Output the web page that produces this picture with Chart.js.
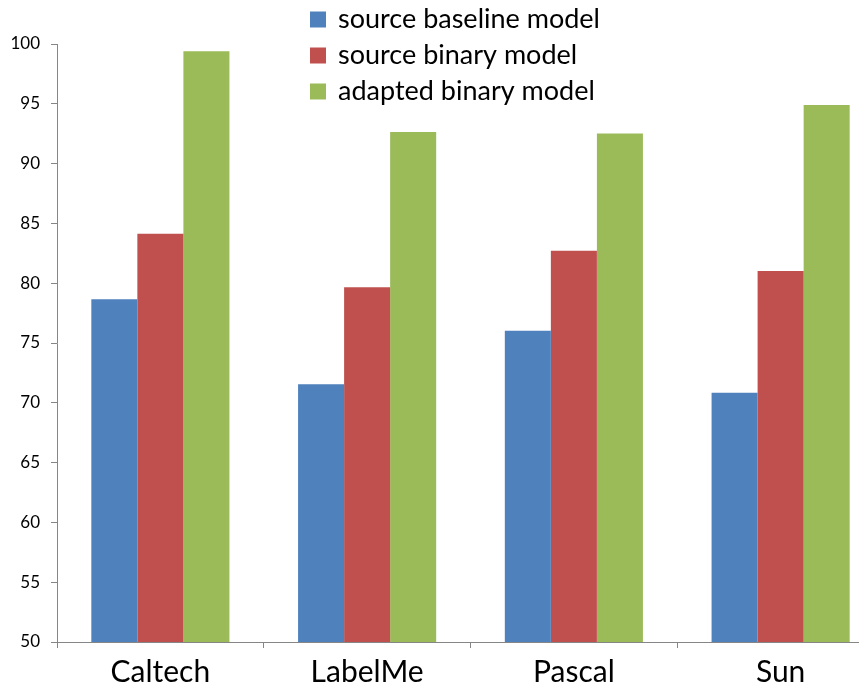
<!DOCTYPE html>
<html>
<head>
<meta charset="utf-8">
<script src="https://cdn.jsdelivr.net/npm/chart.js@4/dist/chart.umd.min.js"></script>
<style>
html,body{margin:0;padding:0;overflow:hidden;background:#fff;}
#wrap{width:886px;height:687px;}
</style>
</head>
<body>
<div id="wrap"><canvas id="c" width="886" height="687"></canvas></div>
<script>
const categories = ["Caltech", "LabelMe", "Pascal", "Sun"];
const seriesNames = ["source baseline model", "source binary model", "adapted binary model"];
const sourceBaseline = [78.65, 71.56, 76.03, 70.84];
const sourceBinary = [84.14, 79.66, 82.72, 81.02];
const adaptedBinary = [99.4, 92.65, 92.51, 94.89];
const yTicks = [50, 55, 60, 65, 70, 75, 80, 85, 90, 95, 100];
const colors = ["#4F81BD", "#C0504D", "#9BBB59"];
const FONT = "Lato, 'Noto Sans', sans-serif";

const legendPlugin = {
  id: 'vlegend',
  afterDraw(chart) {
    const ctx = chart.ctx;
    ctx.save();
    ctx.font = "27px " + FONT;
    ctx.textBaseline = "middle";
    ctx.textAlign = "left";
    chart.data.datasets.forEach((ds, i) => {
      const cy = 19.5 + i * 36;
      ctx.fillStyle = ds.backgroundColor;
      ctx.fillRect(310, cy - 8, 16, 16);
      ctx.fillStyle = "#000";
      ctx.fillText(ds.label, 338, cy);
    });
    ctx.restore();
  }
};

new Chart(document.getElementById('c'), {
  type: 'bar',
  data: {
    labels: categories,
    datasets: [
      { label: seriesNames[0], data: sourceBaseline, backgroundColor: colors[0] },
      { label: seriesNames[1], data: sourceBinary, backgroundColor: colors[1] },
      { label: seriesNames[2], data: adaptedBinary, backgroundColor: colors[2] }
    ]
  },
  options: {
    responsive: false,
    animation: false,
    layout: { padding: { top: 44, right: 2, left: 0, bottom: 0 } },
    datasets: { bar: { barPercentage: 1.0, categoryPercentage: 0.668, borderWidth: 0 } },
    plugins: { legend: { display: false }, tooltip: { enabled: false } },
    scales: {
      x: {
        offset: true,
        grid: { display: true, offset: true, drawOnChartArea: false, tickLength: 6, color: "#868686" },
        border: { color: "#868686", width: 1 },
        ticks: { font: { family: FONT, size: 30 }, color: "#000", padding: 6 },
        afterFit(s) { s.height = 45; }
      },
      y: {
        min: 50, max: 100,
        afterBuildTicks(s) { s.ticks = yTicks.map(v => ({ value: v })); },
        grid: { display: true, drawOnChartArea: false, tickLength: 6, color: "#868686" },
        border: { color: "#868686", width: 1 },
        ticks: { font: { family: FONT, size: 17 }, color: "#000", padding: 11 },
        afterFit(s) { s.width = 57; }
      }
    }
  },
  plugins: [legendPlugin]
});
</script>
</body>
</html>
